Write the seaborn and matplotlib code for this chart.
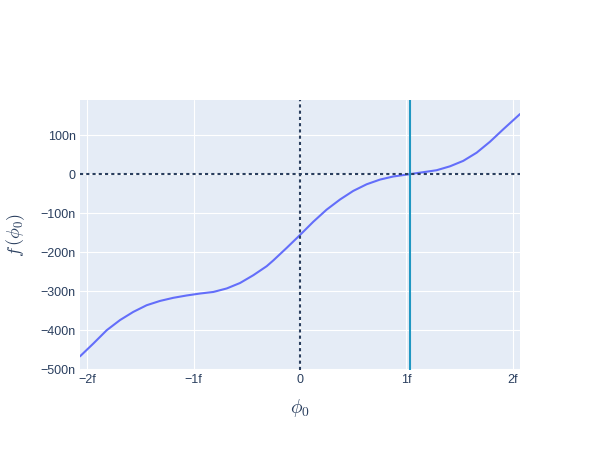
import seaborn as sns
import matplotlib.pyplot as plt
import matplotlib
from matplotlib.ticker import FuncFormatter, FixedLocator
import pandas as pd
import numpy as np

# phi_0 values (in units of 1e-15) and f(phi_0) values (in units of 1e-9)
phi0 = [-2.066, -1.94, -1.815, -1.69, -1.565, -1.44, -1.315, -1.19, -1.064, -0.939,
        -0.814, -0.688, -0.563, -0.438, -0.313, -0.25, -0.125, 0.0,
        0.125, 0.25, 0.376, 0.5, 0.626, 0.751, 0.876, 1.033, 1.158, 1.283,
        1.408, 1.533, 1.659, 1.784, 1.909, 2.066]
f_val = [-467, -434, -400, -374, -353, -336, -325, -317, -311, -306,
         -302, -293, -279, -259, -236, -221, -189, -156,
         -122, -91, -65, -43, -26, -14, -6, 0, 5, 10,
         20, 34, 55, 83, 115, 154]
root = 1.033

df = pd.DataFrame({"phi0": np.array(phi0) * 1e-15, "f": np.array(f_val) * 1e-9})

sns.set_style("darkgrid", {"axes.facecolor": "#E5ECF6", "grid.color": "white"})
plt.rcParams['font.family'] = ['Liberation Sans', 'DejaVu Sans']
plt.rcParams['mathtext.fontset'] = 'cm'

fig = plt.figure(figsize=(6, 4.5), dpi=100)
ax = fig.add_axes([80 / 600, 80 / 450, 440 / 600, 270 / 450])

sns.lineplot(data=df, x="phi0", y="f", ax=ax, color="#636EFA", linewidth=1.5, zorder=3)

ax.axvline(0, color="#2a3f5f", linestyle=(0, (1.5, 1.5)), linewidth=1.5, zorder=4)
ax.axhline(0, color="#2a3f5f", linestyle=(0, (1.5, 1.5)), linewidth=1.5, zorder=4)
ax.axvline(root * 1e-15, color="#1f97c2", linewidth=1.5, zorder=4)

ax.set_xlim(-2.066e-15, 2.066e-15)
ax.set_ylim(-502e-9, 190e-9)

xticks = [-2e-15, -1e-15, 0, 1e-15, 2e-15]
yticks = [-500e-9, -400e-9, -300e-9, -200e-9, -100e-9, 0, 100e-9]
ax.xaxis.set_major_locator(FixedLocator(xticks))
ax.yaxis.set_major_locator(FixedLocator(yticks))

def fmt_x(v, pos):
    n = int(round(v / 1e-15))
    if n == 0:
        return "0"
    return ("\u2212" if n < 0 else "") + f"{abs(n)}f"

def fmt_y(v, pos):
    n = int(round(v / 1e-9))
    if n == 0:
        return "0"
    return ("\u2212" if n < 0 else "") + f"{abs(n)}n"

ax.xaxis.set_major_formatter(FuncFormatter(fmt_x))
ax.yaxis.set_major_formatter(FuncFormatter(fmt_y))
ax.tick_params(axis="both", colors="#2a3f5f", labelsize=9, length=0, pad=3)
ax.grid(True, color="white", linewidth=0.8)

ax.set_xlabel(r"$\phi_0$", fontsize=14, color="#2a3f5f", labelpad=8)
ax.set_ylabel(r"$f\,(\phi_0)$", fontsize=13, color="#2a3f5f", labelpad=10)
for s in ax.spines.values():
    s.set_visible(False)

fig.savefig("out.png", dpi=100)
